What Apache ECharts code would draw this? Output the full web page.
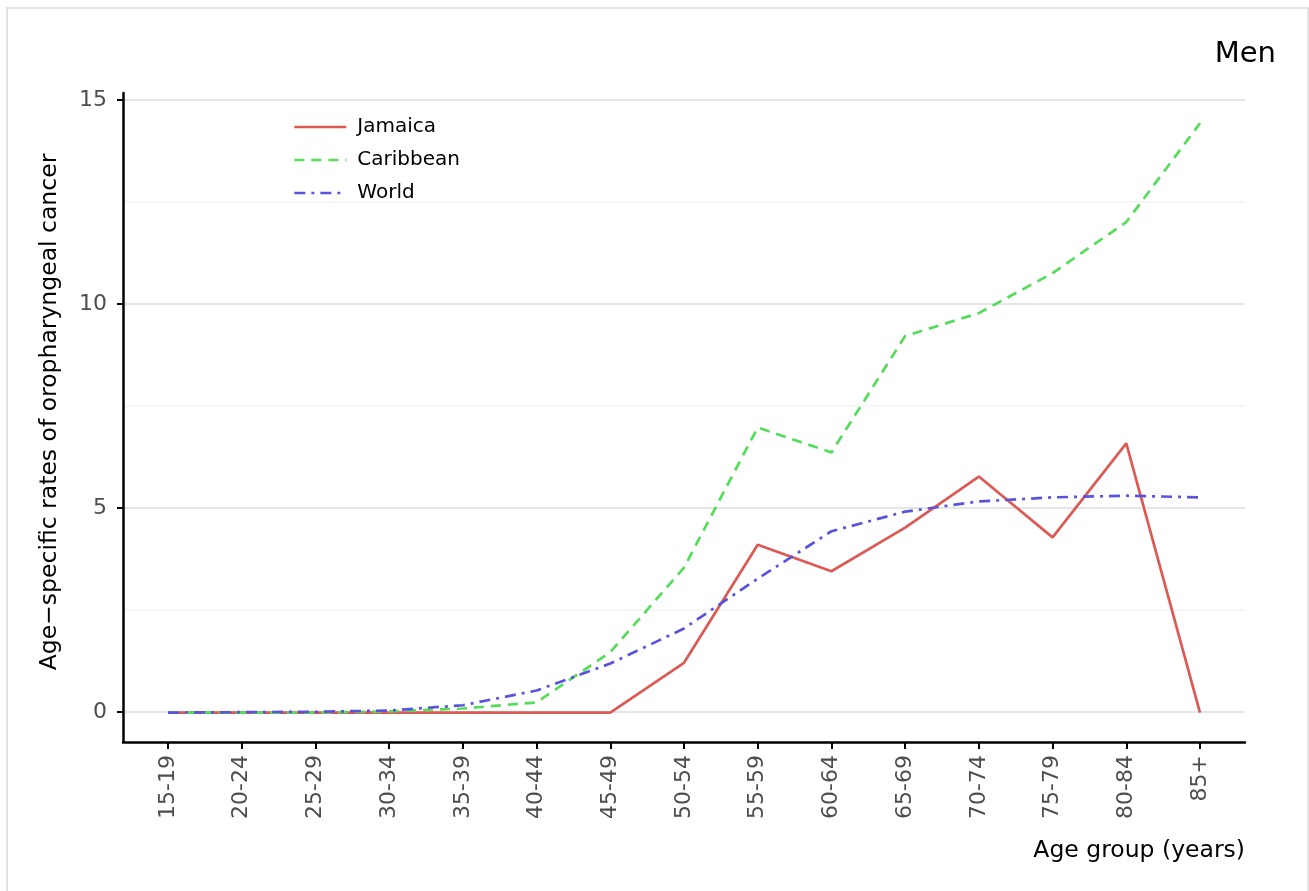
<!DOCTYPE html>
<html>
<head>
	<meta charset="utf-8">
	<title>Men</title>
	<script src="https://cdn.jsdelivr.net/npm/echarts@6/dist/echarts.min.js"></script>
</head>
<body style="margin:0">
	<div id="main" style="height: 891px; width: 1309px;"></div>
	<script type="text/javascript">
		var ages = ['15-19', '20-24', '25-29', '30-34', '35-39', '40-44', '45-49', '50-54', '55-59', '60-64', '65-69', '70-74', '75-79', '80-84', '85+'];
		var jamaica = [0, 0, 0, 0, 0, 0, 0, 1.22, 4.11, 3.46, 4.53, 5.78, 4.29, 6.59, 0];
		var caribbean = [0, 0, 0, 0.03, 0.1, 0.25, 1.48, 3.55, 6.98, 6.37, 9.22, 9.78, 10.76, 12.01, 14.43];
		var world = [0, 0.01, 0.02, 0.05, 0.18, 0.54, 1.2, 2.06, 3.28, 4.44, 4.92, 5.17, 5.27, 5.31, 5.27];
		var yTicks = [0, 5, 10, 15];

		var font = 'DejaVu Sans';
		var myChart = echarts.init(document.getElementById('main'));
		var hidden = {show: false};
		var option = {
			animation: false,
			backgroundColor: '#fff',
			textStyle: {fontFamily: font},
			// 0: frame lines, 1: y ticks + grid lines, 2: data + x ticks
			grid: [
				{left: 123, top: 93, width: 1122, height: 649},
				{left: 123, top: 100, width: 1122, height: 612},
				{left: 168, top: 93, width: 1032, height: 649}
			],
			xAxis: [
				{gridIndex: 0, type: 'value', min: 0, max: 1, axisLine: {show: true, onZero: false, lineStyle: {color: '#000', width: 2.5}},
					axisTick: hidden, axisLabel: hidden, splitLine: hidden},
				{gridIndex: 1, type: 'value', min: 0, max: 1, axisLine: hidden, axisTick: hidden, axisLabel: hidden, splitLine: hidden},
				{gridIndex: 2, type: 'category', data: ages, boundaryGap: false,
					axisLine: {show: false, onZero: false},
					axisTick: {show: true, length: 7, lineStyle: {color: '#000', width: 2}},
					axisLabel: {rotate: 90, margin: 13, color: '#4d4d4d', fontSize: 22, fontFamily: font},
					splitLine: hidden}
			],
			yAxis: [
				{gridIndex: 0, type: 'value', min: 0, max: 1, axisLine: {show: true, onZero: false, lineStyle: {color: '#000', width: 2.5}},
					axisTick: hidden, axisLabel: hidden, splitLine: hidden},
				{gridIndex: 1, type: 'value', min: 0, max: 15, interval: 5,
					axisLine: hidden,
					axisTick: {show: true, length: 6, lineStyle: {color: '#000', width: 2}},
					axisLabel: {margin: 16, color: '#4d4d4d', fontSize: 22, fontFamily: font,
						formatter: function (v) { return yTicks.indexOf(v) >= 0 ? v : ''; }},
					splitLine: {show: true, lineStyle: {color: '#e6e6e6', width: 2}},
					minorTick: {show: false, splitNumber: 2},
					minorSplitLine: {show: true, lineStyle: {color: '#f6f6f6', width: 2}}},
				{gridIndex: 2, type: 'value', min: -0.72, max: 15.17,
					axisLine: hidden, axisTick: hidden, axisLabel: hidden, splitLine: hidden}
			],
			legend: {
				orient: 'vertical',
				left: 288,
				top: 112,
				itemWidth: 52,
				itemHeight: 14,
				itemGap: 13,
				itemStyle: {opacity: 0},
				lineStyle: {width: 2.7},
				textStyle: {fontSize: 20, color: '#000', fontFamily: font, padding: [0, 0, 0, 6]},
				data: ['Jamaica', 'Caribbean', 'World']
			},
			graphic: [
				{type: 'rect', silent: true, z: -10, shape: {x: 7, y: 8, width: 1301, height: 900},
					style: {fill: 'none', stroke: '#e3e3e3', lineWidth: 2}},
				{type: 'text', x: 1276, y: 54, silent: true,
					style: {text: 'Men', font: '29px "DejaVu Sans"', fill: '#000', align: 'right', verticalAlign: 'middle'}},
				{type: 'text', x: 1245, y: 851, silent: true,
					style: {text: 'Age group (years)', font: '23.5px "DejaVu Sans"', fill: '#000', align: 'right', verticalAlign: 'middle'}},
				{type: 'text', x: 50, y: 412, rotation: Math.PI / 2, silent: true,
					style: {text: 'Age\u2212specific rates of oropharyngeal cancer', font: '23.5px "DejaVu Sans"', fill: '#000', align: 'center', verticalAlign: 'middle'}}
			],
			series: [
				{name: 'Jamaica', type: 'line', xAxisIndex: 2, yAxisIndex: 2, data: jamaica, symbol: 'none',
					itemStyle: {color: '#dc5a54'}, lineStyle: {color: '#dc5a54', width: 2.7}},
				{name: 'Caribbean', type: 'line', xAxisIndex: 2, yAxisIndex: 2, data: caribbean, symbol: 'none',
					itemStyle: {color: '#54dc5a'}, lineStyle: {color: '#54dc5a', width: 2.7, type: [10, 7]}},
				{name: 'World', type: 'line', xAxisIndex: 2, yAxisIndex: 2, data: world, symbol: 'none',
					itemStyle: {color: '#5a54dc'}, lineStyle: {color: '#5a54dc', width: 2.7, type: [11, 6, 3, 6]}}
			]
		};
		myChart.setOption(option);
	</script>
</body>
</html>
